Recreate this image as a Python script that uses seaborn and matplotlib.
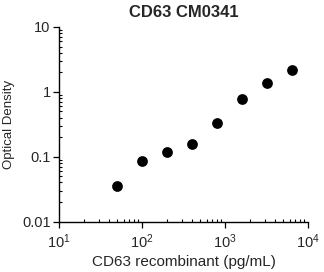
import matplotlib
matplotlib.use("Agg")
import matplotlib.pyplot as plt
import seaborn as sns
import pandas as pd
from matplotlib.ticker import FixedLocator, FixedFormatter, LogLocator, NullFormatter

concentration = [50, 100, 200, 400, 800, 1600, 3200, 6400]
optical_density = [0.035, 0.086, 0.118, 0.157, 0.332, 0.77, 1.38, 2.16]
x_ticks = [10, 100, 1000, 10000]
x_tick_labels = ["10$^{1}$", "10$^{2}$", "10$^{3}$", "10$^{4}$"]
y_ticks = [0.01, 0.1, 1, 10]
y_tick_labels = ["0.01", "0.1", "1", "10"]

sns.set_style("white")
plt.rcParams["font.family"] = ["Liberation Sans", "DejaVu Sans"]
plt.rcParams["mathtext.fontset"] = "custom"
plt.rcParams["mathtext.rm"] = "Liberation Sans"
plt.rcParams["mathtext.it"] = "Liberation Sans:italic"
plt.rcParams["mathtext.bf"] = "Liberation Sans:bold"

df = pd.DataFrame({"conc": concentration, "od": optical_density})

fig = plt.figure(figsize=(3.24, 2.72), dpi=100)
ax = fig.add_axes([59/324, (272-221.5)/272, (308-59)/324, (221.5-27)/272])
sns.scatterplot(data=df, x="conc", y="od", ax=ax, color="black", s=60,
                edgecolor="black", linewidth=0, clip_on=False)
ax.set_xscale("log")
ax.set_yscale("log")
ax.set_xlim(10, 10000)
ax.set_ylim(0.01, 10)
ax.xaxis.set_major_locator(FixedLocator(x_ticks))
ax.xaxis.set_major_formatter(FixedFormatter(x_tick_labels))
ax.yaxis.set_major_locator(FixedLocator(y_ticks))
ax.yaxis.set_major_formatter(FixedFormatter(y_tick_labels))
ax.xaxis.set_minor_locator(LogLocator(base=10, subs=range(2, 10)))
ax.yaxis.set_minor_locator(LogLocator(base=10, subs=range(2, 10)))
ax.xaxis.set_minor_formatter(NullFormatter())
ax.yaxis.set_minor_formatter(NullFormatter())
for s in ["top", "right"]:
    ax.spines[s].set_visible(False)
for s in ["left", "bottom"]:
    ax.spines[s].set_color("black")
    ax.spines[s].set_linewidth(1.0)
ax.tick_params(which="major", direction="out", length=4, width=0.9, color="black",
               labelsize=10.5, pad=2, left=True, bottom=True)
ax.tick_params(which="major", axis="x", pad=4)
ax.tick_params(which="minor", direction="in", length=2.5, width=0.8, color="black",
               left=True, bottom=True)
ax.set_xlabel("CD63 recombinant (pg/mL)", fontsize=11, labelpad=3)
ax.set_ylabel("Optical Density", fontsize=9.5, labelpad=5)
ax.set_title("CD63 CM0341", fontsize=12, fontweight="bold", pad=7)
fig.savefig("out.png", dpi=100)
